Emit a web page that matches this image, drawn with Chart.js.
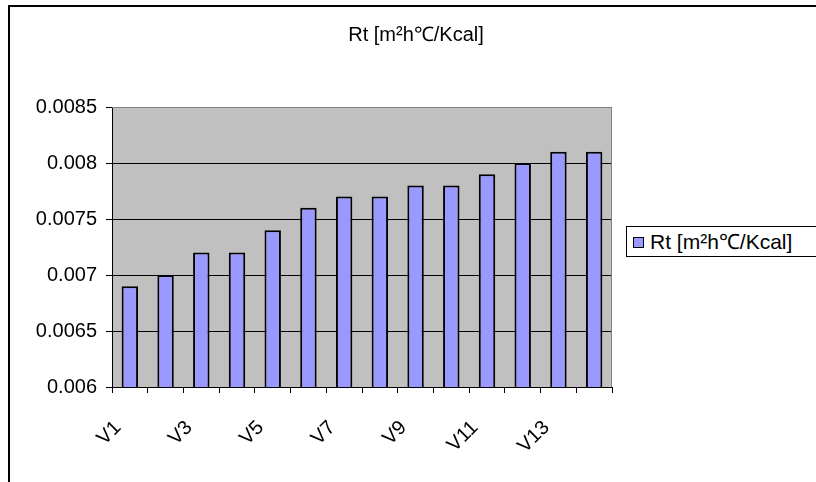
<!DOCTYPE html>
<html>
<head>
<meta charset="utf-8">
<script src="https://cdn.jsdelivr.net/npm/chart.js@4/dist/chart.umd.min.js"></script>
<style>
  html, body { margin: 0; padding: 0; width: 816px; height: 482px; overflow: hidden; background: #fff; }
  #frame { position: absolute; left: 8px; top: 5px; width: 1000px; height: 700px; border: 2px solid #000; box-sizing: border-box; }
  #wrap { position: absolute; left: 16px; top: 0; width: 800px; height: 482px; }
  #legend { position: absolute; left: 626px; top: 226px; width: 230px; height: 31px; border: 1px solid #000; background: #fff; box-sizing: border-box;
            font-family: "Liberation Sans", Arial, sans-serif; font-size: 21px; line-height: 29px; white-space: nowrap; }
  #legend .sw { display: inline-block; width: 9px; height: 9px; border: 1px solid #000; margin: 0 6px 0 6px; vertical-align: 1px; }
</style>
</head>
<body>
<div id="frame"></div>
<div id="wrap"><canvas id="rtChart" width="800" height="482"></canvas></div>
<div id="legend"></div>
<script>
// data
var categories = ['V1', 'V2', 'V3', 'V4', 'V5', 'V6', 'V7', 'V8', 'V9', 'V10', 'V11', 'V12', 'V13', 'V14'];
var rtValues = [0.0069, 0.0070, 0.0072, 0.0072, 0.0074, 0.0076, 0.0077, 0.0077, 0.0078, 0.0078, 0.0079, 0.0080, 0.0081, 0.0081];
var yTicks = [0.006, 0.0065, 0.007, 0.0075, 0.008, 0.0085];
var seriesName = 'Rt [m\u00B2h\u2103/Kcal]';
var barColor = '#9999FF';

var fontFamily = '"Liberation Sans", Arial, sans-serif';

// grey plot area like the old Excel charts
var plotBackground = {
    id: 'plotBackground',
    beforeDraw: function(chart) {
        var a = chart.chartArea, c = chart.ctx;
        c.save();
        c.fillStyle = '#C0C0C0';
        c.fillRect(a.left, a.top, a.right - a.left, a.bottom - a.top);
        c.restore();
    },
    afterDatasetsDraw: function(chart) {
        var a = chart.chartArea, c = chart.ctx;
        c.save();
        c.strokeStyle = '#808080';
        c.lineWidth = 1;
        c.beginPath();
        c.moveTo(a.left, a.top + 0.5);
        c.lineTo(a.right - 0.5, a.top + 0.5);
        c.lineTo(a.right - 0.5, a.bottom);
        c.stroke();
        c.restore();
    }
};

var ctx = document.getElementById('rtChart').getContext('2d');
var rtChart = new Chart(ctx, {
    type: 'bar',
    data: {
        labels: categories,
        datasets: [{
            label: seriesName,
            data: rtValues,
            backgroundColor: barColor,
            borderColor: '#000',
            borderWidth: 2,
            barPercentage: 0.46,
            categoryPercentage: 1
        }]
    },
    options: {
        responsive: false,
        animation: false,
        layout: { padding: 0 },
        plugins: {
            legend: { display: false },
            tooltip: { enabled: false },
            title: {
                display: true,
                text: seriesName,
                color: '#000',
                font: { family: fontFamily, size: 20, weight: 'normal' },
                padding: { top: 23, bottom: 60 }
            }
        },
        scales: {
            x: {
                offset: true,
                grid: { offset: true, drawOnChartArea: false, color: '#000', tickLength: 6 },
                border: { color: '#000', width: 1 },
                ticks: {
                    color: '#000',
                    font: { family: fontFamily, size: 20 },
                    autoSkip: false,
                    maxRotation: 45,
                    minRotation: 45,
                    padding: 23,
                    labelOffset: -12,
                    callback: function(value, index) {
                        return index % 2 === 0 ? categories[index] : '';
                    }
                },
                afterFit: function(scale) { scale.height = 95; }
            },
            y: {
                min: yTicks[0],
                max: yTicks[yTicks.length - 1],
                afterBuildTicks: function(scale) {
                    scale.ticks = yTicks.map(function(v) { return { value: v }; });
                },
                grid: { color: '#000', tickLength: 6 },
                border: { color: '#000', width: 1 },
                ticks: {
                    color: '#000',
                    font: { family: fontFamily, size: 20 },
                    padding: 9,
                    callback: function(value) { return String(Number(value.toFixed(4))); }
                },
                afterFit: function(scale) { scale.width = 96; }
            },
            // empty axis on the right keeps room for the legend box
            spacer: {
                position: 'right',
                min: 0,
                max: 1,
                grid: { display: false },
                border: { display: false },
                ticks: { display: false },
                afterFit: function(scale) { scale.width = 204; }
            }
        }
    },
    plugins: [plotBackground]
});

// legend box on the right, like the reference
var lg = document.getElementById('legend');
var sw = document.createElement('span');
sw.className = 'sw';
sw.style.background = barColor;
lg.appendChild(sw);
lg.appendChild(document.createTextNode(seriesName));
</script>
</body>
</html>
